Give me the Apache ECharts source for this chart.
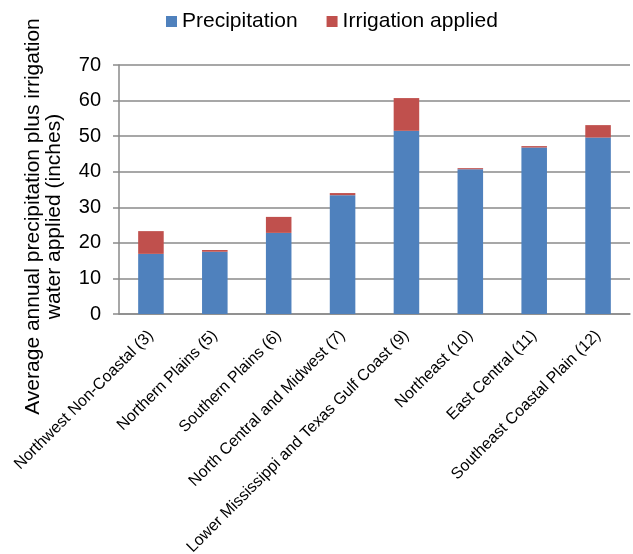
<!DOCTYPE html>
<html>
<head>
<meta charset="utf-8">
<script src="https://cdn.jsdelivr.net/npm/echarts@6/dist/echarts.min.js"></script>
<style>
  html, body { margin: 0; padding: 0; background: #fff; }
  #chart { width: 633px; height: 554px; }
</style>
</head>
<body>
<div id="chart"></div>
<script>
// Regions (number of regions in parentheses)
const regions = [
  'Northwest Non-Coastal (3)',
  'Northern Plains (5)',
  'Southern Plains (6)',
  'North Central and Midwest (7)',
  'Lower Mississippi and Texas Gulf Coast (9)',
  'Northeast (10)',
  'East Central (11)',
  'Southeast Coastal Plain (12)'
];
// Average annual precipitation, inches
const precipitation = [16.9, 17.5, 22.8, 33.4, 51.5, 40.7, 46.8, 49.6];
// Average irrigation water applied, inches
const irrigation = [6.4, 0.5, 4.5, 0.6, 9.2, 0.3, 0.4, 3.5];

const FONT = 'Liberation Sans, Arial, sans-serif';
const GRID = '#8a8a8a';

const chart = echarts.init(document.getElementById('chart'), null, { renderer: 'canvas' });
chart.setOption({
  animation: false,
  textStyle: { fontFamily: FONT, color: '#000' },
  legend: {
    top: 6,
    left: 161,
    itemWidth: 11,
    itemHeight: 11,
    itemGap: 29,
    icon: 'rect',
    textStyle: { fontSize: 21, fontFamily: FONT, color: '#000' },
    data: ['Precipitation', 'Irrigation applied']
  },
  grid: { left: 119, right: 3, top: 65, bottom: 240, containLabel: false, outerBoundsMode: 'none' },
  xAxis: {
    type: 'category',
    data: regions,
    axisLine: { lineStyle: { color: GRID, width: 1.5 } },
    axisTick: { length: 5, lineStyle: { color: GRID, width: 1.5 } },
    axisLabel: {
      interval: 0,
      rotate: 45,
      margin: 19,
      fontSize: 16,
      fontFamily: FONT,
      color: '#000'
    }
  },
  yAxis: {
    type: 'value',
    min: 0,
    max: 70,
    interval: 10,
    name: 'Average annual precipitation plus irrigation\nwater applied (inches)',
    nameLocation: 'middle',
    nameGap: 54,
    nameTextStyle: { fontSize: 21, fontFamily: FONT, color: '#000', lineHeight: 21, padding: [0, 54, 0, 0] },
    axisLine: { show: true, lineStyle: { color: GRID, width: 1.5 } },
    axisTick: { show: true, length: 6, lineStyle: { color: GRID, width: 1.5 } },
    axisLabel: { fontSize: 20, fontFamily: FONT, color: '#000', margin: 18 },
    splitLine: { lineStyle: { color: GRID, width: 1.5 } }
  },
  series: [
    {
      name: 'Precipitation',
      type: 'bar',
      stack: 'total',
      barWidth: '40%',
      itemStyle: { color: '#4F81BD' },
      data: precipitation
    },
    {
      name: 'Irrigation applied',
      type: 'bar',
      stack: 'total',
      barWidth: '40%',
      itemStyle: { color: '#C0504D' },
      data: irrigation
    }
  ]
});
</script>
</body>
</html>
